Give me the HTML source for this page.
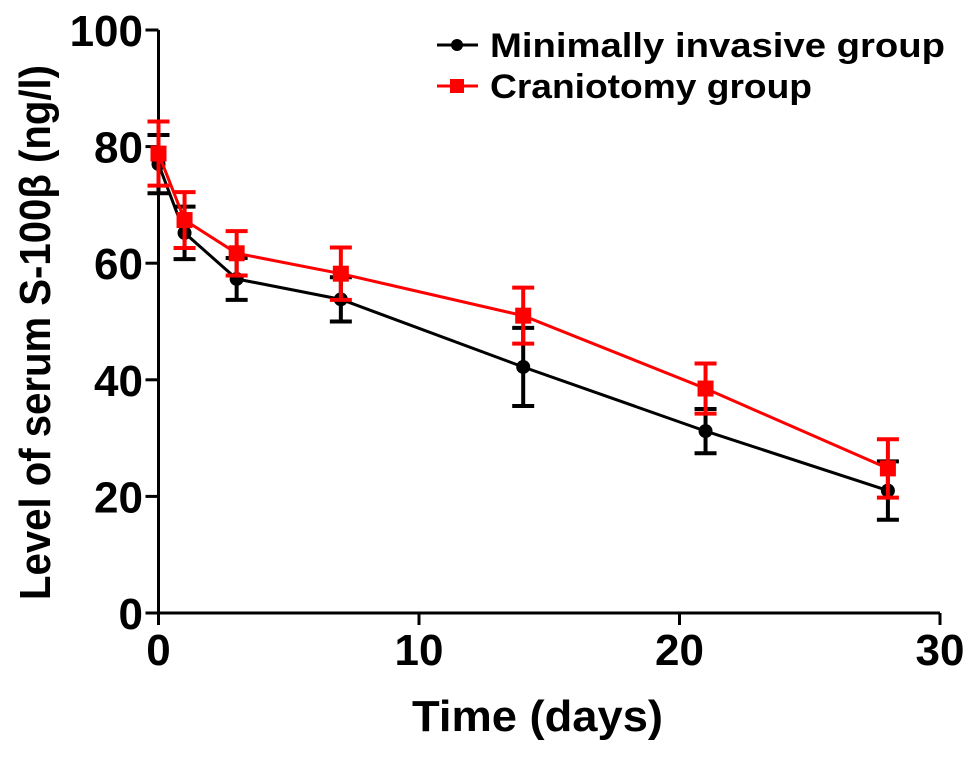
<!DOCTYPE html>
<html><head><meta charset="utf-8"><style>
body{margin:0;background:#fff;}
svg text{font-family:"Liberation Sans",Arial,sans-serif;font-weight:bold;}
</style></head><body>
<svg id="chart" width="979" height="755" viewBox="0 0 979 755">
<g id="axes"></g><g id="series"></g>
<g>
 <g>
  <line x1="437" y1="45" x2="478" y2="45" stroke="#000" stroke-width="3"/>
  <circle cx="457" cy="45" r="6" fill="#000"/>
  <text x="490" y="57" font-size="34" textLength="455" lengthAdjust="spacingAndGlyphs">Minimally invasive group</text>
 </g>
 <g>
  <line x1="437" y1="86" x2="478" y2="86" stroke="#f00" stroke-width="3"/>
  <rect x="450" y="79" width="14" height="14" fill="#f00"/>
  <text x="490" y="98" font-size="34" textLength="322" lengthAdjust="spacingAndGlyphs">Craniotomy group</text>
 </g>
</g>
</svg>
<script>
const days = [0, 1, 3, 7, 14, 21, 28];
const minimalMean = [77, 65.2, 57.3, 53.8, 42.2, 31.2, 21];
const minimalErr = [5, 4.5, 3.6, 3.8, 6.7, 3.8, 5];
const cranioMean = [78.8, 67.4, 61.7, 58.2, 51, 38.5, 24.8];
const cranioErr = [5.5, 4.8, 3.8, 4.5, 4.8, 4.3, 5];
const xTicks = [0, 10, 20, 30];
const yTicks = [0, 20, 40, 60, 80, 100];

const NS = "http://www.w3.org/2000/svg";
const X0 = 158.5, PXD = 26.05, Y0 = 613, PXU = 5.83;
const xs = d => X0 + d * PXD;
const ys = v => Y0 - v * PXU;
function mk(tag, attrs, parent) {
  const e = document.createElementNS(NS, tag);
  for (const k in attrs) e.setAttribute(k, attrs[k]);
  parent.appendChild(e);
  return e;
}
const axes = document.getElementById('axes');
const xAxis = mk('line', {x1: X0, y1: Y0, x2: xs(30), y2: Y0, stroke: '#000', 'stroke-width': 3}, axes);


const yAxis = mk('line', {x1: X0, y1: Y0, x2: X0, y2: ys(100), stroke: '#000', 'stroke-width': 3}, axes);


xTicks.forEach(t => {
  mk('line', {x1: xs(t), y1: Y0, x2: xs(t), y2: Y0 + 12, stroke: '#000', 'stroke-width': 3}, axes);
  const tx = mk('text', {x: xs(t), y: 665, 'font-size': 44, 'text-anchor': 'middle'}, axes);
  tx.textContent = t;
  
  
});
yTicks.forEach(t => {
  mk('line', {x1: X0 - 13, y1: ys(t), x2: X0, y2: ys(t), stroke: '#000', 'stroke-width': 3}, axes);
  const tx = mk('text', {x: 143, y: ys(t) + 16, 'font-size': 44, 'text-anchor': 'end'}, axes);
  tx.textContent = t;
  
  
});
const xt = mk('text', {x: 412, y: 731, 'font-size': 44, textLength: 251, lengthAdjust: 'spacingAndGlyphs'}, axes);
xt.textContent = 'Time (days)';


const yt = mk('text', {x: 0, y: 0, 'font-size': 44, textLength: 535, lengthAdjust: 'spacingAndGlyphs', transform: 'translate(50,600) rotate(-90)'}, axes);
yt.textContent = 'Level of serum S-100β (ng/l)';



const ser = document.getElementById('series');
function drawSeries(means, errs, color, marker, name) {
  const g = mk('g', {}, ser);
  
  
  mk('polyline', {points: days.map((d, i) => xs(d) + ',' + ys(means[i])).join(' '), fill: 'none', stroke: color, 'stroke-width': 3}, g);
  days.forEach((d, i) => {
    const x = xs(d), top = ys(means[i] + errs[i]), bot = ys(means[i] - errs[i]);
    mk('line', {x1: x, y1: top, x2: x, y2: bot, stroke: color, 'stroke-width': 4}, g);
    mk('line', {x1: x - 11, y1: top, x2: x + 11, y2: top, stroke: color, 'stroke-width': 4}, g);
    mk('line', {x1: x - 11, y1: bot, x2: x + 11, y2: bot, stroke: color, 'stroke-width': 4}, g);
    let m;
    if (marker === 'circle') m = mk('circle', {cx: x, cy: ys(means[i]), r: 7, fill: color}, g);
    else m = mk('rect', {x: x - 8, y: ys(means[i]) - 8, width: 16, height: 16, fill: color}, g);
    
    
  });
}
drawSeries(minimalMean, minimalErr, '#000', 'circle', 'minimally-invasive-series');
drawSeries(cranioMean, cranioErr, '#f00', 'square', 'craniotomy-series');
</script>
</body></html>
